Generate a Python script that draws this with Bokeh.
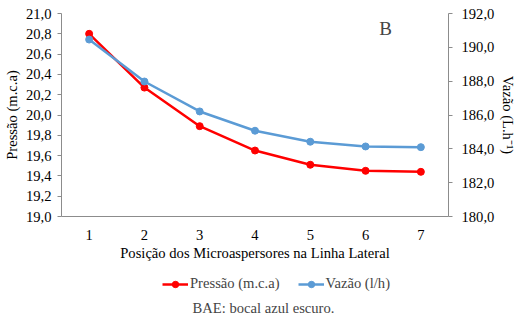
from bokeh.plotting import figure
from bokeh.layouts import column
from bokeh.models import (Range1d, LinearAxis, FixedTicker, Legend, LegendItem,
                          Label)
from bokeh.embed import file_html
from bokeh.resources import INLINE

# Pressure and flow along the lateral line, by emitter position
posicao = [1, 2, 3, 4, 5, 6, 7]
pressao = [20.80, 20.27, 19.89, 19.65, 19.51, 19.45, 19.44]   # m.c.a
vazao = [190.46, 187.98, 186.21, 185.07, 184.42, 184.14, 184.10]  # l/h

ticks_pressao = [19.0, 19.2, 19.4, 19.6, 19.8, 20.0, 20.2, 20.4, 20.6, 20.8, 21.0]
ticks_vazao = [180.0, 182.0, 184.0, 186.0, 188.0, 190.0, 192.0]

FONT = "Liberation Serif"
FS = "14.6px"
AXIS_GRAY = "#8c8c8c"
RED = "#ff0000"
BLUE = "#5b9bd5"


def comma(v):
    return f"{v:.1f}".replace(".", ",")


p = figure(width=522, height=270, output_backend="svg", toolbar_location=None,
           x_range=Range1d(0.5, 7.5), y_range=Range1d(19.0, 21.0),
           min_border_left=61, min_border_right=74, min_border_top=13,
           min_border_bottom=54)
p.outline_line_color = None
p.xgrid.grid_line_color = None
p.ygrid.grid_line_color = None
p.extra_y_ranges = {"vazao": Range1d(180.0, 192.0)}

# Left axis: pressure
ya = p.yaxis[0]
ya.ticker = FixedTicker(ticks=ticks_pressao)
ya.major_label_overrides = {t: comma(t) for t in ticks_pressao}
ya.axis_label = "Pressão (m.c.a)"
ya.major_tick_out = 4
ya.major_tick_in = 0
ya.major_label_standoff = 6
ya.axis_label_standoff = 3

# Right axis: flow
ra = LinearAxis(y_range_name="vazao", ticker=FixedTicker(ticks=ticks_vazao))
ra.major_label_overrides = {t: comma(t) for t in ticks_vazao}
ra.axis_label = "Vazão (L.h⁻¹)"
ra.major_tick_out = 4
ra.major_tick_in = 0
ra.major_label_standoff = 9
ra.axis_label_standoff = 3
p.add_layout(ra, "right")

# Bottom axis: positions
xa = p.xaxis[0]
xa.ticker = FixedTicker(ticks=posicao)
xa.axis_label = "Posição dos Microaspersores na Linha Lateral"
xa.major_label_standoff = 7
xa.axis_label_standoff = 2

for ax in (ya, ra, xa):
    ax.axis_line_color = AXIS_GRAY
    ax.major_tick_line_color = AXIS_GRAY
    ax.minor_tick_line_color = None
    ax.major_label_text_font = FONT
    ax.major_label_text_font_size = FS
    ax.major_label_text_color = "#000000"
    ax.axis_label_text_font = FONT
    ax.axis_label_text_font_size = FS
    ax.axis_label_text_font_style = "normal"
    ax.axis_label_text_color = "#000000"
xa.major_tick_line_color = None

# Series
line_style = dict(line_width=2.5)
p.line(posicao, pressao, line_color=RED, **line_style)
p.scatter(posicao, pressao, size=7, fill_color=RED, line_color=RED)
p.line(posicao, vazao, y_range_name="vazao", line_color=BLUE, **line_style)
p.scatter(posicao, vazao, y_range_name="vazao", size=7,
          fill_color=BLUE, line_color=BLUE)

p.add_layout(Label(x=6.36, y=20.85, text="B", text_font=FONT,
                   text_font_size="19px", text_align="center",
                   text_baseline="middle"))

# Strip below the chart holding the legend and the note.
# Its renderers mirror the series styles; the range keeps their data off-view.
f = figure(width=522, height=54, output_backend="svg", toolbar_location=None,
           x_range=Range1d(100, 101), y_range=Range1d(100, 101),
           min_border=0, x_axis_location=None, y_axis_location=None)
f.outline_line_color = None
f.xgrid.grid_line_color = None
f.ygrid.grid_line_color = None
klp = f.line(posicao, pressao, line_color=RED, **line_style)
ksp = f.scatter(posicao, pressao, size=7, fill_color=RED, line_color=RED)
klv = f.line(posicao, vazao, line_color=BLUE, **line_style)
ksv = f.scatter(posicao, vazao, size=7, fill_color=BLUE, line_color=BLUE)

legend = Legend(items=[LegendItem(label="Pressão (m.c.a)", renderers=[klp, ksp]),
                       LegendItem(label="Vazão (l/h)", renderers=[klv, ksv])],
                orientation="horizontal", location=(101, 32),
                label_text_font=FONT, label_text_font_size=FS,
                glyph_width=26, glyph_height=16, label_standoff=2, spacing=18,
                padding=0, margin=0, border_line_color=None,
                background_fill_alpha=0)
f.add_layout(legend)

f.add_layout(Label(x=202, y=17, x_units="screen", y_units="screen",
                   text="BAE: bocal azul escuro.", text_font=FONT,
                   text_font_size=FS, text_align="center",
                   text_baseline="middle"))

layout = column(p, f, spacing=0)
open("out.html", "w").write(file_html(layout, INLINE))
